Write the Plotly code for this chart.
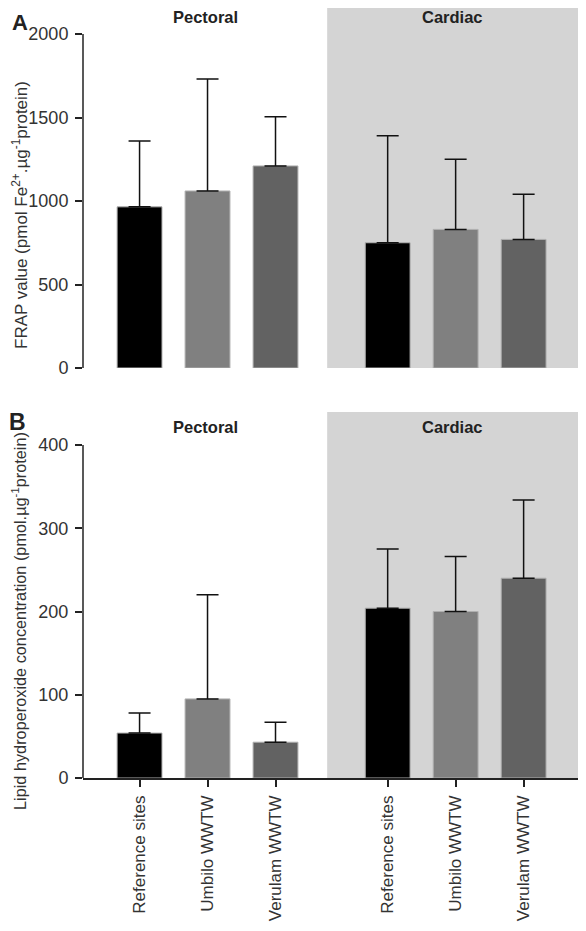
import plotly.graph_objects as go

sites = ["Reference sites", "Umbilo WWTW", "Verulam WWTW"]
tissues = ["Pectoral", "Cardiac"]
bar_colors = ["#000000", "#808080", "#626262"]

# Panel A: FRAP value
frap_pectoral = [965, 1060, 1210]
frap_pectoral_err = [395, 670, 295]
frap_cardiac = [750, 830, 770]
frap_cardiac_err = [640, 420, 270]

# Panel B: lipid hydroperoxide
lh_pectoral = [54, 95, 43]
lh_pectoral_err = [24, 125, 24]
lh_cardiac = [204, 200, 240]
lh_cardiac_err = [71, 66, 94]

xpos_pectoral = [0, 1, 2]
xpos_cardiac = [3.65, 4.65, 5.65]

OFF = 8  # page body margin
W, H = 586 - 2 * OFF, 931 - 2 * OFF
FONT = "Liberation Sans, Arial, sans-serif"
DARK = "#222222"

def py(p):  # reference pixel y -> paper
    return min(1.0, max(0.0, 1 - (p - OFF) / H))

def px(p):
    return min(1.0, max(0.0, (p - OFF) / W))

fig = go.Figure()

panels = [
    ("x", "y", frap_pectoral, frap_pectoral_err, frap_cardiac, frap_cardiac_err),
    ("x2", "y2", lh_pectoral, lh_pectoral_err, lh_cardiac, lh_cardiac_err),
]
for xa, ya, pv, pe, cv, ce in panels:
    for i in range(3):
        for xs, vals, errs in ((xpos_pectoral, pv, pe), (xpos_cardiac, cv, ce)):
            fig.add_trace(go.Bar(
                x=[xs[i]], y=[vals[i]], xaxis=xa, yaxis=ya,
                width=0.66,
                marker=dict(color=bar_colors[i], line=dict(color="#b0b0b0", width=1)),
                error_y=dict(type="data", symmetric=False, array=[errs[i]], arrayminus=[0],
                             color="#111111", thickness=1.5, width=11),
                showlegend=False, hoverinfo="skip",
            ))

xr = [-0.832, 6.45]
x_domain = [px(83), px(582)]
a_top_ref = OFF
yA_max = 2000 * (368 - a_top_ref) / (368 - 34)
yB_max = 400 * (778 - 412) / (778 - 445)

axis_font = dict(family=FONT, size=18, color="#333333")

fig.update_layout(
    template="none",
    width=W, height=H,
    margin=dict(l=0, r=0, t=0, b=0, pad=0),
    paper_bgcolor="white", plot_bgcolor="rgba(0,0,0,0)",
    barmode="overlay",
    font=dict(family=FONT, color=DARK),
    xaxis=dict(domain=x_domain, range=xr, showline=False, showticklabels=False, ticks="",
               showgrid=False, zeroline=False, anchor="y", automargin=False),
    yaxis=dict(domain=[py(368), py(a_top_ref)], range=[0, yA_max], tickvals=[0, 500, 1000, 1500, 2000],
               ticks="outside", ticklen=7, tickwidth=1.5, tickcolor=DARK, ticklabelstandoff=3,
               showgrid=False, zeroline=False, showline=False, tickfont=axis_font, anchor="x",
               automargin=False),
    xaxis2=dict(domain=x_domain, range=xr, showline=True, linecolor=DARK, linewidth=1.5,
                tickvals=xpos_pectoral + xpos_cardiac, ticktext=sites + sites,
                tickangle=-90, ticks="outside", ticklen=7, tickwidth=1.5, tickcolor=DARK,
                ticklabelstandoff=2,
                tickfont=dict(family=FONT, size=17, color="#333333"),
                showgrid=False, zeroline=False, anchor="y2", automargin=False),
    yaxis2=dict(domain=[py(778), py(412)], range=[0, yB_max], tickvals=[0, 100, 200, 300, 400],
                ticks="outside", ticklen=7, tickwidth=1.5, tickcolor=DARK, ticklabelstandoff=3,
                showgrid=False, zeroline=False, showline=False, tickfont=axis_font, anchor="x2",
                automargin=False),
)

shapes = []
for xa, ya, ymax, top in (("x", "y", yA_max, 2000), ("x2", "y2", yB_max, 400)):
    shapes.append(dict(type="rect", xref=xa, yref=ya, x0=2.76, x1=xr[1], y0=0, y1=ymax,
                       fillcolor="#d4d4d4", line=dict(width=0), layer="below"))
    shapes.append(dict(type="line", xref=xa + " domain", yref=ya, x0=0, x1=0, y0=0, y1=top,
                       line=dict(color=DARK, width=1.5)))
fig.update_layout(shapes=shapes)

ann = []
for xa, ypix in (("x", 17), ("x2", 427)):
    ann.append(dict(xref=xa, yref="paper", x=0.97, y=py(ypix), text="<b>Pectoral</b>",
                    yanchor="middle", xanchor="center",
                    showarrow=False, font=dict(family=FONT, size=16.5, color=DARK)))
    ann.append(dict(xref=xa, yref="paper", x=4.6, y=py(ypix), text="<b>Cardiac</b>",
                    yanchor="middle", xanchor="center",
                    showarrow=False, font=dict(family=FONT, size=16.5, color=DARK)))
ann.append(dict(xref="paper", yref="paper", x=px(20), y=1.0, text="<b>A</b>", showarrow=False,
                yanchor="top", xanchor="center",
                font=dict(family=FONT, size=22, color=DARK)))
ann.append(dict(xref="paper", yref="paper", x=px(17), y=py(422), text="<b>B</b>", showarrow=False,
                yanchor="middle", xanchor="center",
                font=dict(family=FONT, size=23, color=DARK)))
ann.append(dict(xref="paper", yref="paper", x=0, y=py(215), textangle=-90, showarrow=False,
                yanchor="middle", xanchor="left", xshift=0, borderpad=0,
                text="FRAP value (pmol Fe<sup>2+</sup>.µg<sup>-1</sup>protein)",
                font=dict(family=FONT, size=17, color="#333333")))
ann.append(dict(xref="paper", yref="paper", x=0, y=py(621), textangle=-90, showarrow=False,
                yanchor="middle", xanchor="left", xshift=0, borderpad=0,
                text="Lipid hydroperoxide concentration (pmol.µg<sup>-1</sup>protein)",
                font=dict(family=FONT, size=16.3, color="#333333")))
fig.update_layout(annotations=ann)

fig.write_html("out.html")
